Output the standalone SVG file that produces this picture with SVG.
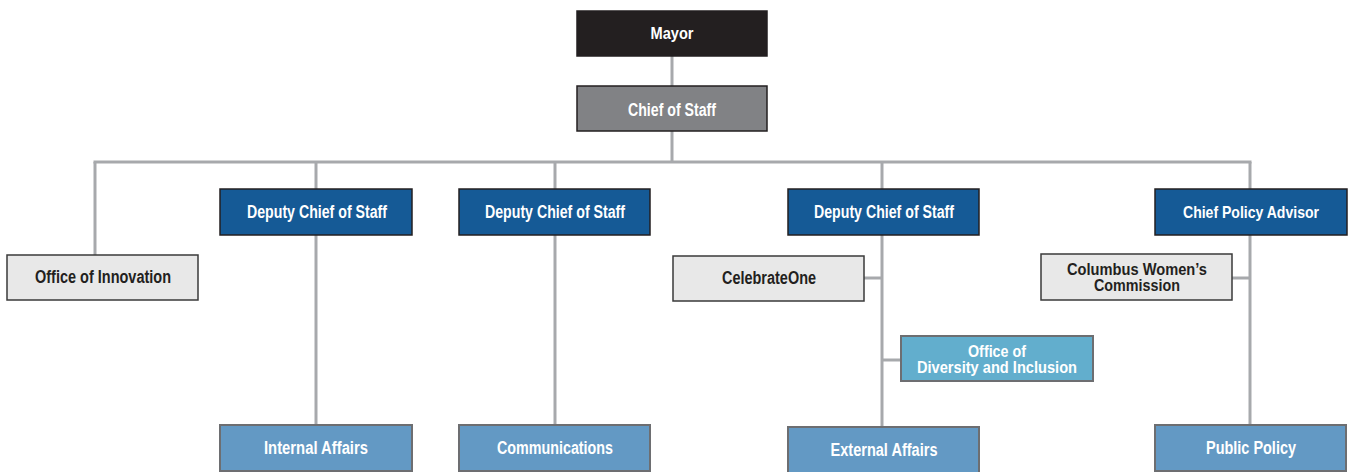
<svg xmlns="http://www.w3.org/2000/svg" width="1352" height="472" viewBox="0 0 1352 472">
<style>
text{font-family:"Liberation Sans",Arial,sans-serif;font-weight:bold;font-size:18px;text-anchor:middle}
.two{font-size:16.5px}
.w{fill:#ffffff}
.k{fill:#231f20}
.lines line{stroke:#a7a9ac;stroke-width:3}
.mayor{fill:#231f20;stroke:#231f20;stroke-width:1.5}
.cos{fill:#818285;stroke:#231f20;stroke-width:1.5}
.dep{fill:#155a96;stroke:#231f20;stroke-width:1.5}
.gry{fill:#e8e8e8;stroke:#3a3a3a;stroke-width:1.5}
.sub{fill:#6399c4;stroke:#6d6e71;stroke-width:2}
.div{fill:#62aecd;stroke:#6d6e71;stroke-width:2}
</style>
<rect width="1352" height="472" fill="#ffffff"/>
<g id="connectors" class="lines">
<line x1="672" y1="56" x2="672" y2="86"/>
<line x1="672" y1="131" x2="672" y2="162"/>
<line x1="93.5" y1="162" x2="1251.5" y2="162"/>
<line x1="95" y1="162" x2="95" y2="255"/>
<line x1="316" y1="162" x2="316" y2="189"/>
<line x1="316" y1="235" x2="316" y2="425"/>
<line x1="555" y1="162" x2="555" y2="189"/>
<line x1="555" y1="235" x2="555" y2="425"/>
<line x1="882" y1="162" x2="882" y2="189"/>
<line x1="882" y1="235" x2="882" y2="427"/>
<line x1="864" y1="278" x2="882" y2="278"/>
<line x1="882" y1="360" x2="901" y2="360"/>
<line x1="1250" y1="162" x2="1250" y2="189"/>
<line x1="1250" y1="235" x2="1250" y2="425"/>
<line x1="1232" y1="278" x2="1250" y2="278"/>
</g>
<g id="mayor"><rect class="mayor" x="577" y="11" width="190" height="45"/><text class="w" x="672" y="39" style="font-size:16px" textLength="43" lengthAdjust="spacingAndGlyphs">Mayor</text></g>
<g id="chief-of-staff"><rect class="cos" x="577" y="86" width="190" height="45"/><text class="w" x="672" y="116" textLength="88" lengthAdjust="spacingAndGlyphs">Chief of Staff</text></g>
<g id="office-of-innovation"><rect class="gry" x="7" y="255" width="191" height="45"/><text class="k" x="103" y="283" textLength="136" lengthAdjust="spacingAndGlyphs">Office of Innovation</text></g>
<g id="deputy-1"><rect class="dep" x="220" y="189" width="192" height="46"/><text class="w" x="317" y="218" textLength="140" lengthAdjust="spacingAndGlyphs">Deputy Chief of Staff</text></g>
<g id="deputy-2"><rect class="dep" x="459" y="189" width="191" height="46"/><text class="w" x="555" y="218" textLength="140" lengthAdjust="spacingAndGlyphs">Deputy Chief of Staff</text></g>
<g id="deputy-3"><rect class="dep" x="788" y="189" width="191" height="46"/><text class="w" x="884" y="218" textLength="140" lengthAdjust="spacingAndGlyphs">Deputy Chief of Staff</text></g>
<g id="chief-policy-advisor"><rect class="dep" x="1155" y="189" width="192" height="46"/><text class="w" x="1251" y="218" style="font-size:17px" textLength="136" lengthAdjust="spacingAndGlyphs">Chief Policy Advisor</text></g>
<g id="celebrateone"><rect class="gry" x="673" y="256" width="191" height="45"/><text class="k" x="769" y="284" textLength="94" lengthAdjust="spacingAndGlyphs">CelebrateOne</text></g>
<g id="columbus-womens-commission"><rect class="gry" x="1041" y="254" width="191" height="46"/><text class="k two" x="1137" y="275" textLength="140" lengthAdjust="spacingAndGlyphs">Columbus Women’s</text><text class="k two" x="1137" y="291" textLength="86" lengthAdjust="spacingAndGlyphs">Commission</text></g>
<g id="office-of-diversity"><rect class="div" x="901" y="336" width="192" height="45"/><text class="w two" x="997" y="357" textLength="58" lengthAdjust="spacingAndGlyphs">Office of</text><text class="w two" x="997" y="373" textLength="160" lengthAdjust="spacingAndGlyphs">Diversity and Inclusion</text></g>
<g id="internal-affairs"><rect class="sub" x="220" y="425" width="192" height="46"/><text class="w" x="316" y="454" textLength="104" lengthAdjust="spacingAndGlyphs">Internal Affairs</text></g>
<g id="communications"><rect class="sub" x="459" y="425" width="191" height="46"/><text class="w" x="555" y="454" textLength="116" lengthAdjust="spacingAndGlyphs">Communications</text></g>
<g id="external-affairs"><rect class="sub" x="788" y="427" width="191" height="46"/><text class="w" x="884" y="456" textLength="107" lengthAdjust="spacingAndGlyphs">External Affairs</text></g>
<g id="public-policy"><rect class="sub" x="1155" y="425" width="191" height="46"/><text class="w" x="1251" y="454" textLength="90" lengthAdjust="spacingAndGlyphs">Public Policy</text></g>
</svg>
